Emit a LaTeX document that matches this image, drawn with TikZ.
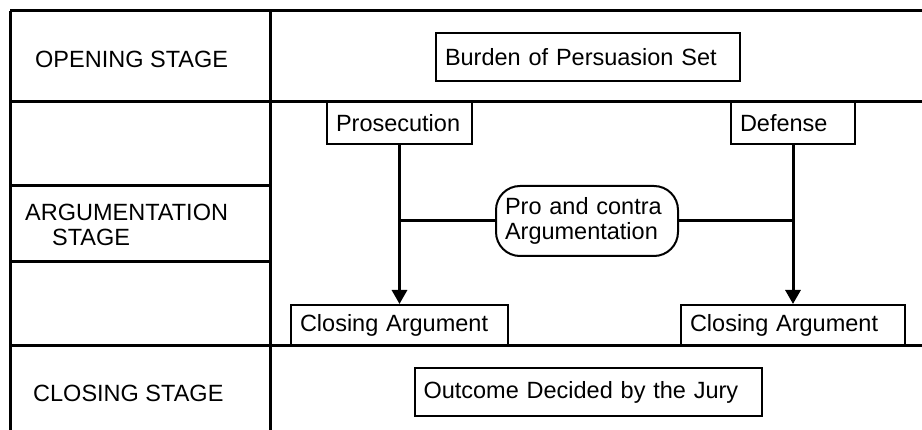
\documentclass[tikz,border=0pt]{standalone}
\usepackage{fontspec}
\setmainfont{Liberation Sans}
\usetikzlibrary{arrows.meta}
\begin{document}
\begin{tikzpicture}[
      x=1pt, y=-1pt,
      every node/.style={font=\fontsize{23.5}{25}\selectfont, inner sep=0pt},
      frame/.style={line width=3pt},
      box/.style={draw, line width=2pt, align=left, inner xsep=9pt},
      pill/.style={box, rounded corners=24pt, inner xsep=9pt},
      label/.style={anchor=west, align=left},
      link/.style={line width=3pt},
      flow/.style={link, -{Triangle[length=14pt,width=15pt]}}
    ]

    \useasboundingbox (0,0) rectangle (922,430);

    \draw[frame] (10,11) -- (922,11);
    \draw[frame] (10,11) -- (10,430);
    \draw[frame] (270,11) -- (270,430);
    \draw[frame] (10,102) -- (922,102);
    \draw[frame] (10,186) -- (270,186);
    \draw[frame] (10,262) -- (270,262);
    \draw[frame] (10,346) -- (922,346);

    \node[label] (opening) at (35,59) {OPENING STAGE};
    \node[label] (arguing) at (25,225) {ARGUMENTATION\\\hspace*{27pt}STAGE};
    \node[label] (closing) at (33,393) {CLOSING STAGE};

    \node[box, text width=286pt, minimum height=48pt] (burden) at (588,57) {Burden of Persuasion Set};
    \node[box, text width=127pt, minimum height=42pt] (pros) at (399.5,123) {Prosecution};
    \node[box, text width=106pt, minimum height=42pt] (def) at (793,123) {Defense};
    \node[pill, text width=164pt, minimum height=70pt] (pro) at (587,221) {Pro and contra\\Argumentation};
    \node[box, text width=199pt, minimum height=41pt] (closeL) at (399.5,325.5) {Closing Argument};
    \node[box, text width=206pt, minimum height=41pt] (closeR) at (793,325.5) {Closing Argument};
    \node[box, text width=329pt, minimum height=48pt] (outcome) at (588,392) {Outcome Decided by the Jury};

    \draw[flow] (pros.south) -- (closeL.north);
    \draw[flow] (def.south) -- (closeR.north);
    \draw[link] (pro.west) -- (pros.south |- pro.west);
    \draw[link] (pro.east) -- (def.south |- pro.east);

    \end{tikzpicture}
\end{document}
